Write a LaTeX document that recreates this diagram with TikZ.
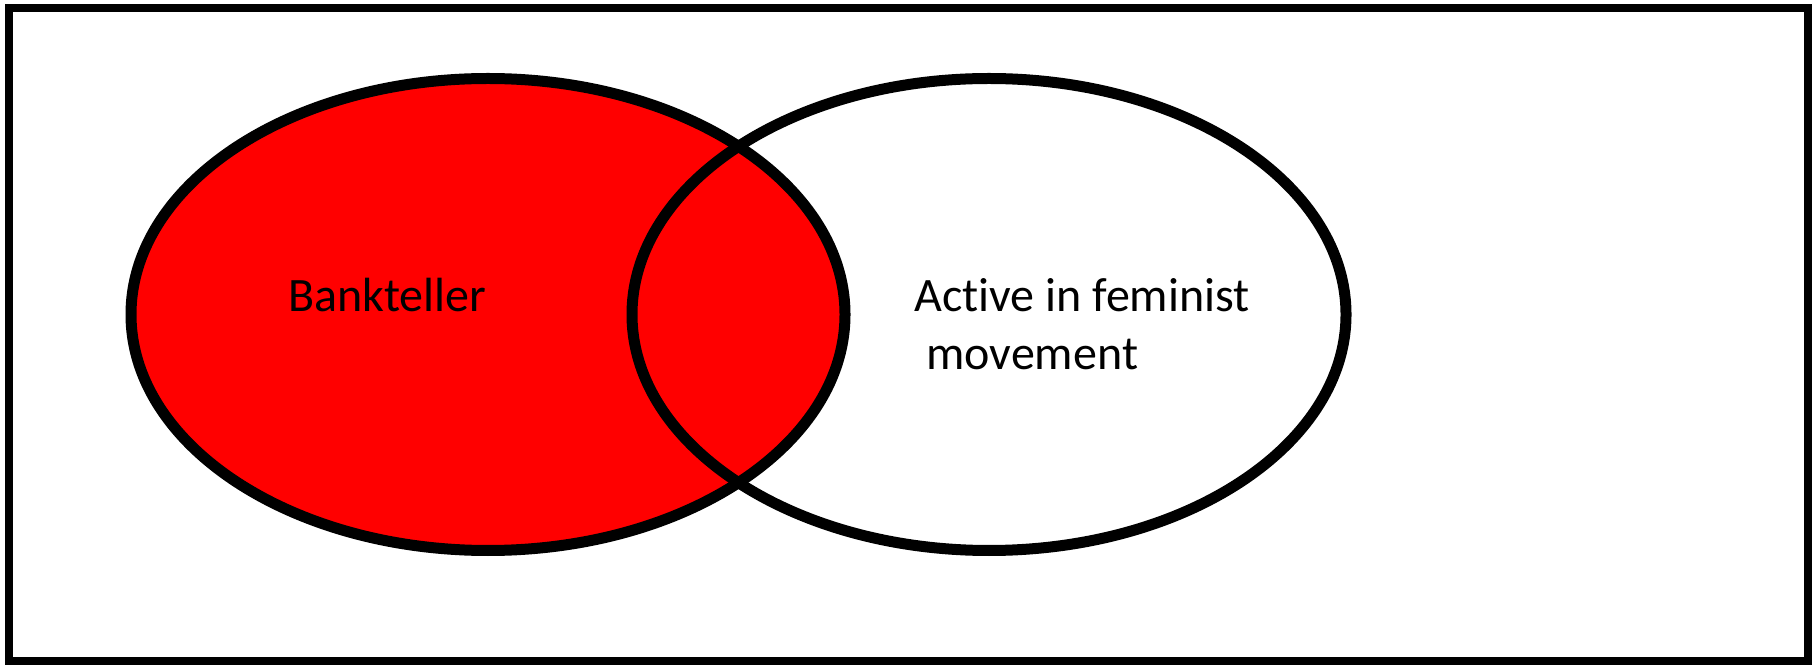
\documentclass[tikz,border=0pt]{standalone}
\usepackage{fontspec}
\setmainfont{Carlito}[Ligatures=NoCommon]
\begin{document}
\begin{tikzpicture}[x=0.5pt, y=0.5pt]
    % Frame
    \useasboundingbox (0,0) rectangle (1814,664);
    \draw[line width=4pt] (9,3) rectangle (1808,656);

    % Set A filled, set B outlined
    \filldraw[fill=red, draw=black, line width=5.5pt] (488,349.5) ellipse [x radius=357, y radius=236];
    \draw[line width=5.5pt] (989,349.5) ellipse [x radius=357, y radius=236];

    % Labels
    \node[anchor=base west, inner sep=0, font=\fontsize{24}{29}\selectfont] (bank) at (288,352) {Bankteller};
    \node[anchor=base west, inner sep=0, font=\fontsize{24}{29}\selectfont] (active) at (914,352) {Active in feminist};
    \node[anchor=base west, inner sep=0, font=\fontsize{24}{29}\selectfont] (move) at (926,294) {movement};
\end{tikzpicture}
\end{document}
